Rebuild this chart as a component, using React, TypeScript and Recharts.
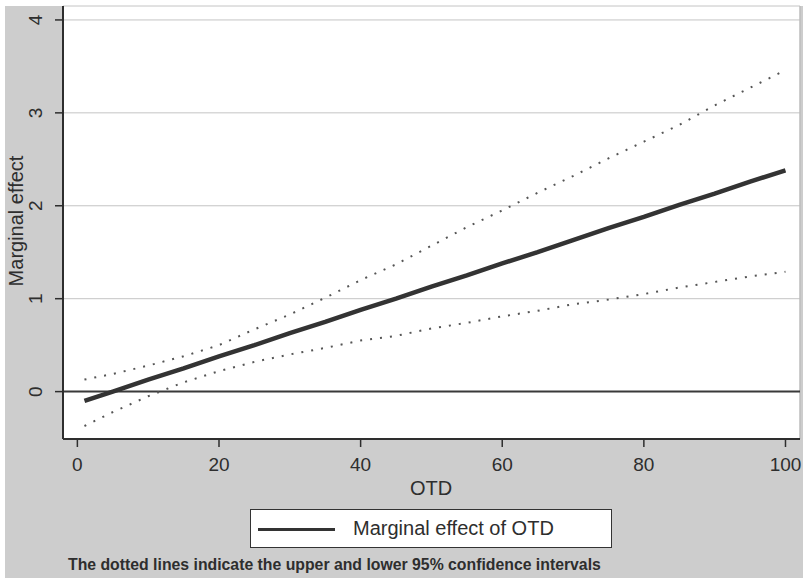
import React from "react";
import {
  ComposedChart,
  Line,
  XAxis,
  YAxis,
  CartesianGrid,
  ReferenceLine,
} from "recharts";

// OTD values (x) at which the estimates were read off the picture
const otd = [1, 5, 10, 15, 20, 25, 30, 35, 40, 45, 50, 55, 60, 65, 70, 75, 80, 85, 90, 95, 100];
// Marginal effect of OTD (solid line)
const marginal = [-0.1, 0.0, 0.13, 0.25, 0.38, 0.5, 0.63, 0.75, 0.88, 1.0, 1.13, 1.25, 1.38, 1.5, 1.63, 1.76, 1.88, 2.01, 2.13, 2.26, 2.38];
// Upper 95% confidence bound (dotted)
const upper = [0.13, 0.19, 0.28, 0.38, 0.5, 0.67, 0.83, 1.01, 1.2, 1.37, 1.57, 1.77, 1.95, 2.14, 2.32, 2.51, 2.69, 2.87, 3.08, 3.27, 3.46];
// Lower 95% confidence bound (dotted)
const lower = [-0.37, -0.22, -0.05, 0.1, 0.22, 0.32, 0.4, 0.47, 0.55, 0.6, 0.68, 0.74, 0.81, 0.87, 0.94, 0.99, 1.05, 1.12, 1.18, 1.24, 1.29];

const xTicks = [0, 20, 40, 60, 80, 100];
const yTicks = [0, 1, 2, 3, 4];

const legendLabel = "Marginal effect of OTD";
const xTitle = "OTD";
const yTitle = "Marginal effect";
const note = "The dotted lines indicate the upper and lower 95% confidence intervals";

const data = otd.map((x, i) => ({
  x,
  me: marginal[i],
  hi: upper[i],
  lo: lower[i],
}));

const FONT = "'Liberation Sans', Arial, Helvetica, sans-serif";
const INK = "#2e2e2e";

const YTick = (props: any) => {
  const { y, payload } = props;
  const cx = 36;
  return (
    <text
      x={cx}
      y={y}
      transform={`rotate(-90 ${cx} ${y})`}
      textAnchor="middle"
      dominantBaseline="central"
      fontFamily={FONT}
      fontSize={19}
      fill={INK}
    >
      {payload.value}
    </text>
  );
};

const XTick = (props: any) => {
  const { x, payload } = props;
  return (
    <text x={x} y={471} textAnchor="middle" fontFamily={FONT} fontSize={19} fill={INK}>
      {payload.value}
    </text>
  );
};

const YLabel = () => (
  <text
    x={16}
    y={221}
    transform="rotate(-90 16 221)"
    textAnchor="middle"
    dominantBaseline="central"
    fontFamily={FONT}
    fontSize={20}
    fill={INK}
  >
    {yTitle}
  </text>
);

const XLabel = () => (
  <text x={431} y={495} textAnchor="middle" fontFamily={FONT} fontSize={20} fill={INK}>
    {xTitle}
  </text>
);

export default function App() {
  return (
    <div style={{ position: "absolute", left: 0, top: 0, width: 803, height: 578, background: "#fff" }}>
      <div style={{ position: "absolute", left: 5, top: 6, width: 798, height: 572, background: "#cdcdcd" }} />
      <div style={{ position: "absolute", left: 0, top: 0 }}>
        <ComposedChart width={803} height={578} data={data} margin={{ top: 6, right: 3, left: 0, bottom: 0 }}>
          <CartesianGrid vertical={false} stroke="#c4c4c4" strokeWidth={1} fill="#ffffff" />
          <XAxis
            dataKey="x"
            type="number"
            domain={[-2.03, 102.05]}
            ticks={xTicks}
            height={139}
            tickSize={8}
            axisLine={{ stroke: INK, strokeWidth: 2 }}
            tickLine={{ stroke: INK, strokeWidth: 1.5 }}
            tick={<XTick />}
            interval={0}
            label={<XLabel />}
          />
          <YAxis
            type="number"
            domain={[-0.51, 4.15]}
            ticks={yTicks}
            width={63}
            tickSize={8}
            axisLine={{ stroke: INK, strokeWidth: 2 }}
            tickLine={{ stroke: INK, strokeWidth: 1.5 }}
            tick={<YTick />}
            interval={0}
            label={<YLabel />}
          />
          <ReferenceLine x={102.05} stroke="#bdbdbd" strokeWidth={1.5} />
          <ReferenceLine y={0} stroke="#3a3a3a" strokeWidth={2} />
          <Line
            type="linear"
            dataKey="hi"
            stroke="#555"
            strokeWidth={2}
            strokeDasharray="2 8"
            dot={false}
            isAnimationActive={false}
          />
          <Line
            type="linear"
            dataKey="lo"
            stroke="#555"
            strokeWidth={2}
            strokeDasharray="2 8"
            dot={false}
            isAnimationActive={false}
          />
          <Line
            type="linear"
            dataKey="me"
            stroke="#333"
            strokeWidth={4.5}
            dot={false}
            isAnimationActive={false}
          />
        </ComposedChart>
      </div>
      <div
        style={{
          position: "absolute",
          left: 250,
          top: 509,
          width: 362,
          height: 39,
          boxSizing: "border-box",
          border: "1.5px solid #333",
          background: "#fff",
        }}
      >
        <div style={{ position: "absolute", left: 7, top: 18, width: 77, height: 3, background: "#333" }} />
        <div
          style={{
            position: "absolute",
            left: 102,
            top: 0,
            height: 36,
            lineHeight: "36px",
            fontFamily: FONT,
            fontSize: 20,
            color: INK,
            whiteSpace: "nowrap",
          }}
        >
          {legendLabel}
        </div>
      </div>
      <div
        style={{
          position: "absolute",
          left: 68,
          top: 556,
          lineHeight: "18px",
          fontFamily: FONT,
          fontSize: 15.8,
          fontWeight: "bold",
          color: INK,
          whiteSpace: "nowrap",
        }}
      >
        {note}
      </div>
    </div>
  );
}
